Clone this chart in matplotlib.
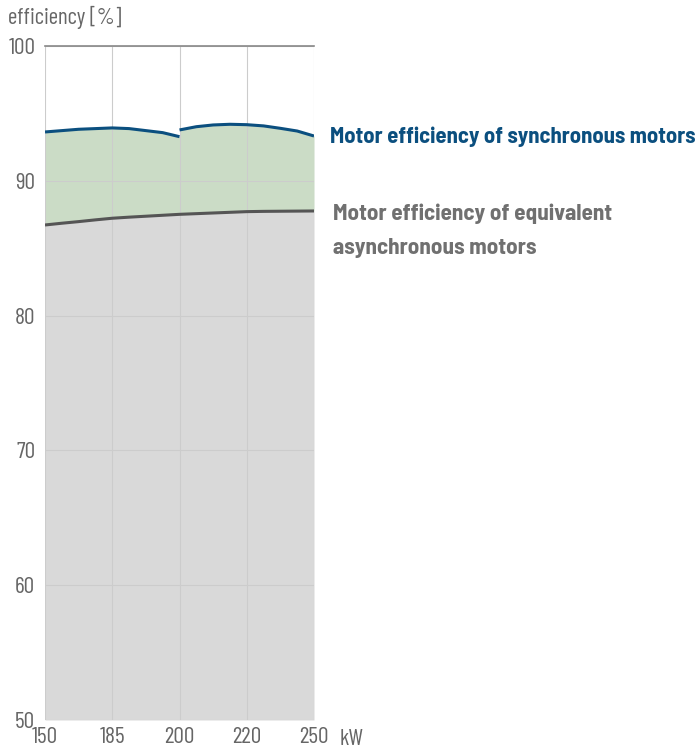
import matplotlib
matplotlib.use("Agg")
import matplotlib.pyplot as plt
from matplotlib import font_manager

names = {f.name for f in font_manager.fontManager.ttflist}
prefs = ["Barlow Semi Condensed", "Fira Sans Condensed", "Roboto Condensed",
         "PT Sans Narrow", "Liberation Sans Narrow", "DejaVu Sans"]
fam = next(p for p in prefs if p in names)
tick_fam = "Barlow Condensed" if "Barlow Condensed" in names else fam
plt.rcParams['font.family'] = [fam, 'DejaVu Sans']

# categories (kW) and read-off efficiency values
categories = ["150", "185", "200", "220", "250"]
sync_x1 = [0, 0.25, 0.5, 0.75, 1, 1.25, 1.5, 1.75, 2]
sync_y1 = [93.62, 93.72, 93.82, 93.87, 93.92, 93.87, 93.72, 93.57, 93.27]
sync_x2 = [2, 2.25, 2.5, 2.75, 3, 3.25, 3.5, 3.75, 4]
sync_y2 = [93.77, 94.01, 94.14, 94.19, 94.16, 94.07, 93.89, 93.69, 93.32]
async_x = [0, 0.25, 0.5, 0.75, 1, 1.25, 1.5, 1.75, 2, 2.25, 2.5, 2.75, 3, 3.25, 3.5, 3.75, 4]
async_y = [86.72, 86.85, 86.97, 87.10, 87.22, 87.30, 87.37, 87.44, 87.51,
           87.56, 87.61, 87.66, 87.71, 87.73, 87.74, 87.75, 87.76]

blue = "#0b4f7f"
grey_line = "#555555"
label_col = "#666666"

fig = plt.figure(figsize=(7, 7.51), dpi=100)
ax = fig.add_axes([0.0643, 0.0413, 0.3843, 0.8975])
renderer = fig.canvas.get_renderer()


def fit_size(text, width_px, weight="normal", family=None):
    t = fig.text(0, 0, text, fontsize=10, fontweight=weight,
                 family=[family or fam, 'DejaVu Sans'])
    w = t.get_window_extent(renderer).width
    t.remove()
    return 10 * width_px / w


ax.fill_between(async_x, 50, async_y, color="#d9d9d9", lw=0, zorder=1)
ax.fill_between(sync_x1, async_y[:9], sync_y1, color="#cbdcc6", lw=0, zorder=1)
ax.fill_between(sync_x2, async_y[8:], sync_y2, color="#cbdcc6", lw=0, zorder=1)

ax.plot(sync_x1, sync_y1, color=blue, lw=2.2, zorder=4, solid_capstyle='butt')
ax.plot(sync_x2, sync_y2, color=blue, lw=2.2, zorder=4, solid_capstyle='butt')
ax.plot(async_x, async_y, color=grey_line, lw=2.2, zorder=4, solid_capstyle='butt')

ax.set_xlim(0, 4)
ax.set_ylim(50, 100)
ax.set_xticks(range(len(categories)))
ax.set_yticks([50, 60, 70, 80, 90, 100])
ax.grid(True, color="#cccccc", lw=0.8, zorder=2)
for s in ["left", "right", "bottom"]:
    ax.spines[s].set_visible(False)
ax.spines["top"].set_color("#888888")
ax.spines["top"].set_linewidth(1.2)
ax.tick_params(length=0)

tick_fs = fit_size("100", 27, "normal", tick_fam)
ax.set_yticklabels(["50", "60", "70", "80", "90", "100"], fontsize=tick_fs,
                   color=label_col, family=[tick_fam, 'DejaVu Sans'])
ax.set_xticklabels(categories, fontsize=tick_fs, color=label_col,
                   family=[tick_fam, 'DejaVu Sans'])
ax.tick_params(axis='y', pad=7)
ax.tick_params(axis='x', pad=5)

fig.text(8 / 700, 1 - 24 / 751, "efficiency [%]",
         fontsize=fit_size("efficiency [%]", 114, "normal", tick_fam),
         color=label_col, family=[tick_fam, 'DejaVu Sans'])
fig.text(340 / 700, 1 - 745 / 751, "kW", fontsize=tick_fs, color=label_col,
         family=[tick_fam, 'DejaVu Sans'])

fs_blue = fit_size("Motor efficiency of synchronous motors", 366, "bold")
fig.text(330 / 700, 1 - 143 / 751, "Motor efficiency of synchronous motors", fontsize=fs_blue,
         color=blue, fontweight="bold")
fs_grey = fit_size("Motor efficiency of equivalent", 279, "bold")
fig.text(333 / 700, 1 - 220 / 751, "Motor efficiency of equivalent", fontsize=fs_grey,
         color="#707070", fontweight="bold")
fig.text(333 / 700, 1 - 254 / 751, "asynchronous motors", fontsize=fs_grey,
         color="#707070", fontweight="bold")

fig.savefig("out.png", dpi=100)
